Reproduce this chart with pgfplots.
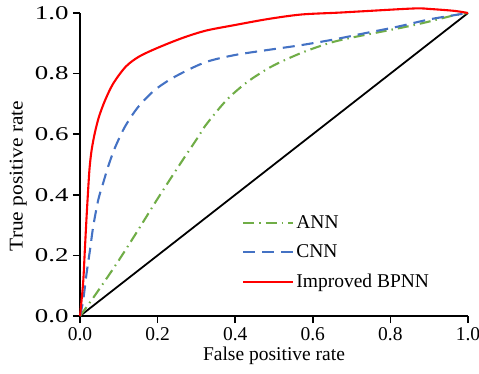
\documentclass[border=0pt]{standalone}
\usepackage{fontspec}
\setmainfont{Liberation Serif}
\usepackage{graphicx}
\usepackage{pgfplots}
\pgfplotsset{compat=1.18}

\definecolor{annGreen}{RGB}{112,173,71}
\definecolor{cnnBlue}{RGB}{68,114,196}
\definecolor{bpRed}{RGB}{255,0,0}

\newcommand{\chartfont}{\fontsize{19.5bp}{23bp}\selectfont}

\begin{document}
\begin{tikzpicture}[font=\chartfont]
% fixed page frame around the plot area
\path[use as bounding box] (-80bp,-58bp) rectangle (399bp,316bp);
\begin{axis}[
  at={(0,0)}, anchor=south west,
  scale only axis,
  width=388bp, height=303bp,
  xmin=0, xmax=1, ymin=0, ymax=1,
  clip=false,
  axis x line*=bottom, axis y line*=left,
  axis line style={line width=1.6pt},
  every tick/.style={black, line width=1.6pt},
  tick align=outside,
  major tick length=7bp,
  xtick={0,0.2,0.4,0.6,0.8,1.0},
  ytick={0,0.2,0.4,0.6,0.8,1.0},
  minor tick num=0,
  /pgf/number format/.cd, fixed, fixed zerofill, precision=1, assume math mode=true,
  /pgfplots/.cd,
  tick label style={font=\chartfont},
  xticklabel style={yshift=-1bp},
  yticklabel={\scalebox{1.38}[1]{\pgfmathprintnumber{\tick}}},
  yticklabel style={xshift=-1bp},
  xlabel={False positive rate},
  ylabel={\scalebox{1.1}[1]{True positive rate}},
  label style={font=\chartfont},
  xlabel style={at={(axis description cs:0.5,-0.132)}, anchor=center},
  ylabel style={at={(axis description cs:-0.159,0.462)}, anchor=center},
  legend cell align=left,
  legend style={draw=none, fill=none, at={(0.41,0.345)}, anchor=north west,
    font=\chartfont, row sep=11bp},
  legend image code/.code={%
    \path (0bp,0bp) -- (50bp,0bp);
    \draw[#1] (0bp,0bp) -- (40bp,0bp);},
]
% chance line
\addplot[black, line width=1.8pt, forget plot] coordinates {(0,0) (1,1)};

% ANN
\addplot[annGreen, line width=2.1pt, smooth, tension=0.5,
  dash pattern=on 11bp off 5bp on 1.5bp off 5bp] coordinates {
  (0,0) (0.039,0.069) (0.095,0.174) (0.147,0.278) (0.198,0.383)
  (0.253,0.492) (0.305,0.592) (0.323,0.628) (0.366,0.696) (0.396,0.735)
  (0.434,0.775) (0.482,0.815) (0.520,0.840) (0.568,0.867) (0.610,0.887)
  (0.654,0.905) (0.705,0.920) (0.756,0.933) (0.842,0.955) (0.894,0.970)
  (0.963,0.992) (1,1)};
\addlegendentry{ANN}

% CNN
\addplot[cnnBlue, line width=2.1pt, smooth, tension=0.5,
  dash pattern=on 12bp off 7bp] coordinates {
  (0,0) (0.008,0.050) (0.017,0.141) (0.026,0.220) (0.034,0.295)
  (0.047,0.383) (0.060,0.440) (0.073,0.495) (0.090,0.555) (0.116,0.625)
  (0.150,0.690) (0.193,0.746) (0.245,0.790) (0.322,0.837) (0.398,0.861)
  (0.484,0.878) (0.570,0.894) (0.656,0.913) (0.733,0.933) (0.819,0.955)
  (0.905,0.980) (1,1)};
\addlegendentry{CNN}

% Improved BPNN
\addplot[bpRed, line width=2.1pt, smooth, tension=0.5] coordinates {
  (0,0) (0.008,0.108) (0.0125,0.218) (0.017,0.328) (0.022,0.438)
  (0.025,0.493) (0.030,0.548) (0.038,0.603) (0.049,0.658) (0.065,0.713)
  (0.086,0.768) (0.118,0.823) (0.152,0.856) (0.200,0.885) (0.265,0.918)
  (0.325,0.942) (0.398,0.960) (0.484,0.980) (0.570,0.995) (0.664,1.001)
  (0.733,1.006) (0.862,1.015) (0.905,1.013) (0.965,1.007) (1,1)};
\addlegendentry{Improved BPNN}
\end{axis}
\end{tikzpicture}
\end{document}
